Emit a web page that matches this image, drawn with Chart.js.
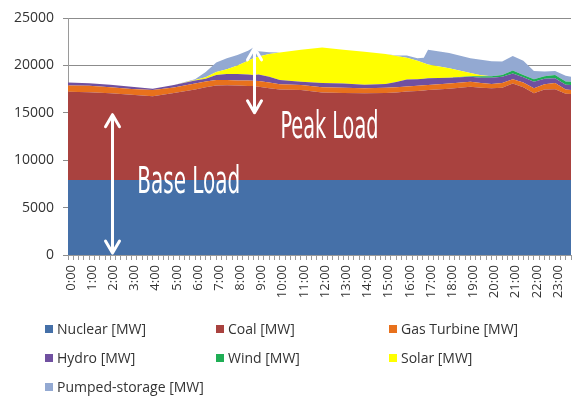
<!DOCTYPE html>
<html>
<head>
<meta charset="utf-8">
<script src="https://cdn.jsdelivr.net/npm/chart.js@4/dist/chart.umd.min.js"></script>
<style>
  html, body { margin: 0; padding: 0; background: #fff; }
  #wrap { position: relative; width: 573px; height: 406px; overflow: hidden; }
  #chartBox { position: absolute; left: 0; top: 0; width: 573px; height: 315px; }
  #legend { position: absolute; left: 0; top: 0; width: 573px; height: 406px; pointer-events: none; }
  .item { position: absolute; font: 14px "Open Sans", "Liberation Sans", sans-serif; color: #333; white-space: nowrap; line-height: 16px; }
  .item span.sw { display: inline-block; width: 8px; height: 8px; margin-right: 4px; vertical-align: 1px; }
</style>
</head>
<body>
<div id="wrap">
  <div id="chartBox"><canvas id="chart"></canvas></div>
  <div id="legend"></div>
</div>
<script>
// Time of day in hours
const hours = [0, 1, 2, 3, 4, 5, 6, 6.5, 7, 7.5, 8, 8.5, 8.75, 9, 9.5, 10, 11, 12, 13, 14, 15, 15.5,
               16, 16.5, 16.8, 17, 18, 19, 19.5, 20, 20.5, 21, 21.5, 22, 22.5, 23, 23.5, 23.75];

// Generation by source [MW]
const nuclear = [7900, 7900, 7900, 7900, 7900, 7900, 7900, 7900, 7900, 7900, 7900, 7900, 7900, 7900, 7900, 7900, 7900, 7900, 7900,
                 7900, 7900, 7900, 7900, 7900, 7900, 7900, 7900, 7900, 7900, 7900, 7900, 7900, 7900, 7900, 7900, 7900, 7900, 7900];
const coal = [9330, 9280, 9150, 9000, 8850, 9200, 9550, 9800, 9980, 10000, 9970, 9940, 9930, 9860, 9700, 9550, 9500, 9250, 9200,
              9150, 9200, 9250, 9350, 9400, 9450, 9500, 9650, 9860, 9750, 9700, 9750, 10200, 9800, 9150, 9550, 9580, 9100, 9080];
const gasTurbine = [650, 670, 650, 620, 650, 580, 630, 600, 580, 550, 550, 560, 560, 590, 600, 550, 530, 550, 550,
                    530, 550, 550, 530, 550, 550, 530, 550, 520, 500, 450, 500, 430, 500, 530, 550, 670, 450, 420];
const hydro = [320, 270, 250, 230, 150, 240, 320, 300, 540, 650, 680, 650, 610, 700, 600, 450, 350, 450, 450,
               370, 400, 550, 720, 700, 700, 710, 600, 530, 550, 650, 650, 620, 550, 700, 600, 490, 500, 530];
const wind = [0, 0, 0, 0, 0, 0, 0, 0, 0, 0, 0, 0, 0, 0, 0, 0, 0, 0, 0,
              0, 0, 0, 0, 0, 0, 0, 0, 50, 150, 150, 200, 300, 250, 250, 250, 350, 350, 350];
const solar = [0, 0, 0, 0, 0, 0, 50, 150, 300, 500, 900, 1450, 1750, 1900, 2400, 2900, 3370, 3750, 3550,
               3500, 3150, 2750, 2300, 1950, 1650, 1460, 1000, 340, 100, 0, 0, 0, 0, 0, 0, 0, 0, 0];
const pumpedStorage = [0, 0, 0, 0, 0, 0, 100, 550, 1000, 1150, 1100, 1050, 1150, 550, 200, 0, 0, 0, 0,
                       0, 0, 50, 250, 250, 550, 1550, 1600, 1550, 1650, 1600, 1400, 1550, 1500, 870, 500, 410, 600, 520];

const seriesNames = ['Nuclear [MW]', 'Coal [MW]', 'Gas Turbine [MW]', 'Hydro [MW]', 'Wind [MW]', 'Solar [MW]', 'Pumped-storage [MW]'];
const seriesValues = [nuclear, coal, gasTurbine, hydro, wind, solar, pumpedStorage];
const seriesColors = ['#4570a8', '#a9423f', '#e8711c', '#7050a0', '#1fae55', '#ffff00', '#93a9d2'];

const yTicks = [0, 5000, 10000, 15000, 20000, 25000];

const datasets = seriesValues.map((vals, i) => ({
    label: seriesNames[i],
    data: vals.map((v, j) => ({ x: hours[j], y: v })),
    backgroundColor: seriesColors[i],
    borderColor: seriesColors[i],
    borderWidth: 0,
    pointRadius: 0,
    tension: 0,
    fill: i === 0 ? 'origin' : '-1'
}));

// White arrows and "Base Load" / "Peak Load" labels
const annotations = {
    id: 'annotations',
    afterDatasetsDraw(chart) {
        const ctx = chart.ctx;
        const xs = chart.scales.x, ys = chart.scales.y;

        function arrow(h, v1, v2) {
            const x = Math.round(xs.getPixelForValue(h)) + 0.5;
            const yTop = ys.getPixelForValue(v1);
            const yBot = ys.getPixelForValue(v2);
            ctx.save();
            ctx.strokeStyle = '#fff';
            ctx.lineWidth = 3;
            ctx.lineCap = 'round';
            ctx.lineJoin = 'round';
            ctx.beginPath();
            ctx.moveTo(x, yTop);
            ctx.lineTo(x, yBot);
            ctx.moveTo(x - 7, yTop + 12);
            ctx.lineTo(x, yTop);
            ctx.lineTo(x + 7, yTop + 12);
            ctx.moveTo(x - 7, yBot - 12);
            ctx.lineTo(x, yBot);
            ctx.lineTo(x + 7, yBot - 12);
            ctx.stroke();
            ctx.restore();
        }

        function label(text, h, v, width) {
            const x = xs.getPixelForValue(h);
            const y = ys.getPixelForValue(v);
            ctx.save();
            ctx.font = '37px "DejaVu Sans Condensed", "DejaVu Sans", sans-serif';
            const w = ctx.measureText(text).width;
            ctx.translate(x, y);
            ctx.scale(width / w, 1);
            ctx.fillStyle = '#fff';
            ctx.textAlign = 'left';
            ctx.textBaseline = 'alphabetic';
            ctx.fillText(text, 0, 0);
            ctx.restore();
        }

        arrow(2.1, 14800, 200);
        arrow(8.77, 21850, 15000);
        label('Base Load', 3.27, 6500, 103);
        label('Peak Load', 10.03, 12350, 98);
    }
};

const chart = new Chart(document.getElementById('chart'), {
    type: 'line',
    data: { datasets: datasets },
    options: {
        responsive: true,
        maintainAspectRatio: false,
        animation: false,
        layout: { padding: { top: 18, right: 2, left: 0, bottom: 0 } },
        plugins: {
            legend: { display: false },
            tooltip: { enabled: false }
        },
        scales: {
            x: {
                type: 'linear',
                min: 0,
                max: 23.75,
                afterFit(scale) {
                    scale.height = 60;
                    scale.paddingLeft = 0;
                    scale.paddingRight = 0;
                },
                ticks: {
                    stepSize: 0.25,
                    autoSkip: false,
                    minRotation: 90,
                    maxRotation: 90,
                    padding: 5,
                    labelOffset: 3,
                    color: '#333',
                    font: { family: '"Open Sans", "Liberation Sans", sans-serif', size: 13 },
                    callback: (v) => Number.isInteger(v) ? v + ':00' : ''
                },
                grid: { drawOnChartArea: false, drawTicks: true, tickLength: 5, color: '#9a9a9a' },
                border: { color: '#9a9a9a' }
            },
            y: {
                stacked: true,
                min: yTicks[0],
                max: yTicks[yTicks.length - 1],
                afterFit(scale) { scale.width = 68; },
                afterBuildTicks(scale) { scale.ticks = yTicks.map(v => ({ value: v })); },
                ticks: {
                    padding: 9,
                    color: '#333',
                    font: { family: '"Open Sans", "Liberation Sans", sans-serif', size: 14 },
                    callback: (v) => String(v)
                },
                grid: { color: '#8c8c8c', tickLength: 5 },
                border: { color: '#9a9a9a' }
            }
        }
    },
    plugins: [annotations]
});

// Legend in three columns under the chart
const legendCols = [45, 216, 389];
const legendRows = [321, 350, 379];
const legendEl = document.getElementById('legend');
chart.data.datasets.forEach((ds, i) => {
    const div = document.createElement('div');
    div.className = 'item';
    div.style.left = legendCols[i % 3] + 'px';
    div.style.top = legendRows[Math.floor(i / 3)] + 'px';
    div.innerHTML = '<span class="sw" style="background:' + ds.backgroundColor + '"></span>' + ds.label;
    legendEl.appendChild(div);
});
</script>
</body>
</html>
